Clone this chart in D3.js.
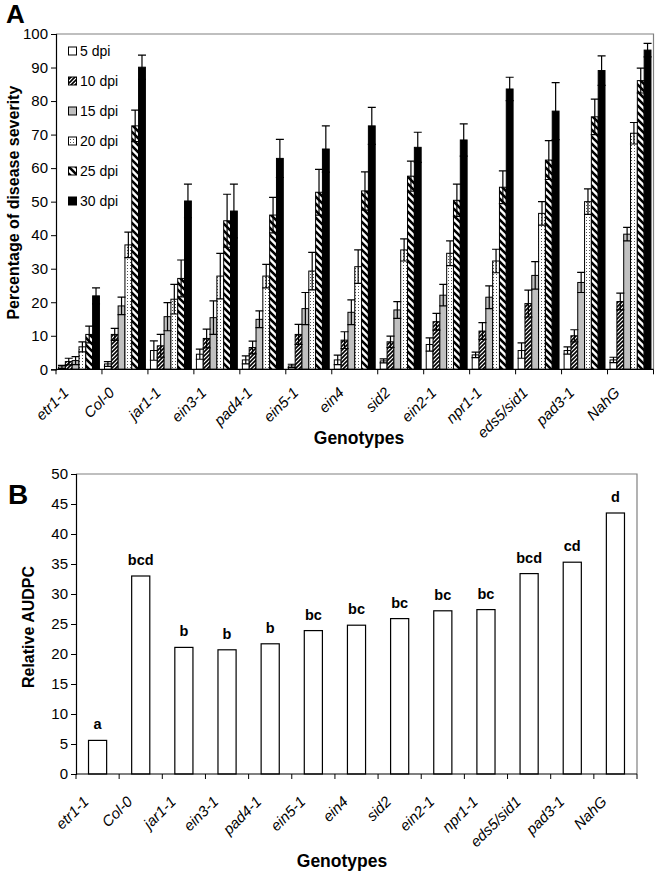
<!DOCTYPE html>
<html><head><meta charset="utf-8">
<script src="https://cdn.jsdelivr.net/npm/d3@7/dist/d3.min.js"></script>
<style>
html,body{margin:0;padding:0;background:#fff;}
#wrap{position:relative;width:656px;height:872px;}
svg{display:block;font-family:"Liberation Sans",Arial,sans-serif;}
.xl{position:absolute;font-family:"Liberation Sans",Arial,sans-serif;font-style:italic;font-size:15px;white-space:nowrap;line-height:1;transform-origin:100% 100%;}
</style></head>
<body>
<div id="wrap"><svg id="c" width="656" height="872"></svg></div>
<script>
// ---------- DATA ----------
const genotypes = ["etr1-1","Col-0","jar1-1","ein3-1","pad4-1","ein5-1","ein4","sid2","ein2-1","npr1-1","eds5/sid1","pad3-1","NahG"];
const seriesNames = ["5 dpi","10 dpi","15 dpi","20 dpi","25 dpi","30 dpi"];
const dpi5  = [0.7, 1.6, 5.6, 4.5, 2.8, 1.0, 2.8, 2.5, 7.4, 4.3, 5.6, 5.6, 2.8];
const err5  = [0.5, 0.7, 2.9, 1.5, 1.2, 0.5, 1.4, 0.6, 2.0, 0.8, 2.3, 1.1, 0.8];
const dpi10 = [2.3, 10.4, 7.0, 9.2, 6.5, 10.4, 8.7, 8.2, 14.2, 11.4, 19.6, 10.0, 20.2];
const err10 = [1.0, 1.8, 3.4, 2.8, 1.9, 3.0, 2.5, 1.7, 2.5, 2.5, 4.0, 1.8, 2.5];
const dpi15 = [2.6, 18.9, 15.7, 15.4, 14.9, 18.1, 17.0, 17.7, 22.1, 21.5, 28.0, 25.9, 40.3];
const err15 = [1.2, 2.6, 4.2, 5.0, 2.5, 4.8, 3.7, 2.5, 3.2, 3.4, 4.1, 3.0, 2.0];
const dpi20 = [6.7, 37.1, 20.9, 27.8, 27.8, 29.3, 30.6, 35.6, 34.6, 32.3, 46.5, 50.0, 70.4];
const err20 = [1.5, 3.8, 4.4, 6.8, 3.5, 5.6, 5.0, 3.3, 3.7, 3.5, 3.5, 3.8, 3.2];
const dpi25 = [10.4, 72.6, 27.1, 44.3, 46.0, 52.8, 53.2, 57.6, 50.4, 54.3, 62.4, 75.3, 86.1];
const err25 = [2.5, 4.7, 5.5, 7.9, 5.3, 6.8, 5.7, 4.5, 4.8, 4.9, 5.8, 5.3, 3.7];
const dpi30 = [21.9, 90.1, 50.2, 47.2, 62.9, 65.7, 72.6, 66.2, 68.4, 83.6, 77.0, 89.1, 95.2];
const err30 = [2.4, 3.6, 5.0, 8.0, 5.7, 6.9, 5.5, 4.5, 4.8, 3.5, 8.5, 4.4, 2.0];
const audpc   = [5.6, 33.0, 21.1, 20.7, 21.7, 23.9, 24.8, 25.9, 27.2, 27.4, 33.4, 35.3, 43.5];
const letters = ["a","bcd","b","b","b","bc","bc","bc","bc","bc","bcd","cd","d"];
const ticksA = d3.range(0, 101, 10);
const ticksB = d3.range(0, 51, 5);

const values = [dpi5, dpi10, dpi15, dpi20, dpi25, dpi30];
const errors = [err5, err10, err15, err20, err25, err30];

// ---------- SETUP ----------
const svg = d3.select("#c");
const wrap = d3.select("#wrap");
const defs = svg.append("defs");
let p = defs.append("pattern").attr("id","p10").attr("patternUnits","userSpaceOnUse")
  .attr("width",4).attr("height",4);
p.append("rect").attr("width",4).attr("height",4).attr("fill","#fff");
p.append("path").attr("d","M-1,1 l2,-2 M0,4 l4,-4 M3,5 l2,-2").attr("stroke","#000").attr("stroke-width",1.6);
p = defs.append("pattern").attr("id","p20").attr("patternUnits","userSpaceOnUse")
  .attr("width",3).attr("height",3);
p.append("rect").attr("width",3).attr("height",3).attr("fill","#fff");
p.append("rect").attr("x",1).attr("y",1).attr("width",1).attr("height",1).attr("fill","#555");
p = defs.append("pattern").attr("id","p25").attr("patternUnits","userSpaceOnUse")
  .attr("width",7).attr("height",7);
p.append("rect").attr("width",7).attr("height",7).attr("fill","#fff");
p.append("path").attr("d","M-2,-2 L9,9 M-2,5 L2,9 M5,-2 L9,2").attr("stroke","#000").attr("stroke-width",2.6);

const fills = ["#fff","url(#p10)","#c0c0c0","url(#p20)","url(#p25)","#000"];

// HTML label whose bottom-right corner is pinned at (x,y), rotated -45deg around it
function diagLabel(x, y, txt){
  const d = wrap.append("div").attr("class","xl").text(txt);
  const w = d.node().getBoundingClientRect().width;
  const h = d.node().getBoundingClientRect().height;
  d.style("left",(x-w)+"px").style("top",(y-h)+"px").style("transform","rotate(-45deg)");
}

// ---------- PANEL A ----------
const A = {l:56, r:653.5, t:34, b:369.3};
const xA = d3.scaleBand().domain(genotypes).range([A.l, A.r]);
const xInA = d3.scaleBand().domain(d3.range(6)).range([xA.bandwidth()*0.055, xA.bandwidth()*0.945]);
const yA = d3.scaleLinear().domain([0,100]).range([A.b, A.t]);

svg.append("text").attr("x",6).attr("y",23).attr("font-size",26).attr("font-weight","bold").text("A");
svg.append("path").attr("d",`M${A.l},${A.t}H${A.r}V${A.b}`).attr("fill","none").attr("stroke","#808080").attr("stroke-width",1.2);

const gA = svg.append("g");
genotypes.forEach((g,i)=>{
  for(let s=0;s<6;s++){
    const x = xA(g)+xInA(s), w = xInA.bandwidth(), v = values[s][i];
    gA.append("rect").attr("x",x).attr("y",yA(v)).attr("width",w).attr("height",yA(0)-yA(v))
      .attr("fill",fills[s]).attr("stroke","#000").attr("stroke-width",1);
  }
});
genotypes.forEach((g,i)=>{
  for(let s=0;s<6;s++){
    const cx = xA(g)+xInA(s)+xInA.bandwidth()/2, v = values[s][i], e = errors[s][i];
    const lo = Math.max(0, v-e);
    gA.append("path").attr("d",`M${cx},${yA(lo)}V${yA(v+e)}M${cx-4},${yA(v+e)}h8M${cx-4},${yA(lo)}h8`)
      .attr("stroke","#000").attr("stroke-width",1.2).attr("fill","none");
  }
});

const axYA = svg.append("g").attr("transform",`translate(${A.l},0)`)
  .call(d3.axisLeft(yA).tickValues(ticksA).tickSize(5).tickPadding(3));
axYA.select(".domain").attr("stroke","#000").attr("stroke-width",1.2);
axYA.selectAll("text").attr("font-size",15).attr("font-family","Liberation Sans, Arial, sans-serif").attr("fill","#000");
axYA.selectAll("line").attr("stroke","#000");

const axXA = svg.append("g");
axXA.append("line").attr("x1",A.l).attr("x2",A.r).attr("y1",A.b).attr("y2",A.b).attr("stroke","#000").attr("stroke-width",1.2);
axXA.append("line").attr("x1",A.l).attr("x2",A.l).attr("y1",A.b).attr("y2",A.b+5).attr("stroke","#000");
genotypes.forEach((g,i)=>{
  axXA.append("line").attr("x1",xA(g)+xA.bandwidth()).attr("x2",xA(g)+xA.bandwidth()).attr("y1",A.b).attr("y2",A.b+5).attr("stroke","#000");
  const cx = xA(g)+xA.bandwidth()/2;
  diagLabel(cx-8, A.b+26, g);
});

svg.append("text").attr("transform",`translate(19,${(A.t+A.b)/2+1}) rotate(-90)`).attr("text-anchor","middle")
  .attr("font-size",16).attr("font-weight","bold").text("Percentage of disease severity");
svg.append("text").attr("x",359).attr("y",444).attr("text-anchor","middle")
  .attr("font-size",17.5).attr("font-weight","bold").text("Genotypes");

const leg = svg.append("g");
seriesNames.forEach((n,s)=>{
  const y = 51 + s*30;
  leg.append("rect").attr("x",68.5).attr("y",y-4).attr("width",8).attr("height",8)
    .attr("fill",fills[s]).attr("stroke","#000").attr("stroke-width",1);
  leg.append("text").attr("x",80).attr("y",y+5).attr("font-size",14).text(n);
});

// ---------- PANEL B ----------
const B = {l:76, r:637, t:474, b:774};
const xB = d3.scaleBand().domain(genotypes).range([B.l, B.r]);
const yB = d3.scaleLinear().domain([0,50]).range([B.b, B.t]);

svg.append("text").attr("x",8).attr("y",504).attr("font-size",28).attr("font-weight","bold").text("B");
svg.append("path").attr("d",`M${B.l},${B.t}H${B.r}V${B.b}`).attr("fill","none").attr("stroke","#808080").attr("stroke-width",1.2);

const bw = xB.bandwidth()*0.42;
genotypes.forEach((g,i)=>{
  const cx = xB(g)+xB.bandwidth()/2;
  svg.append("rect").attr("x",cx-bw/2).attr("y",yB(audpc[i])).attr("width",bw).attr("height",yB(0)-yB(audpc[i]))
    .attr("fill","#fff").attr("stroke","#000").attr("stroke-width",1.2);
  svg.append("text").attr("x",cx).attr("y",yB(audpc[i])-11).attr("text-anchor","middle")
    .attr("font-size",14.5).attr("font-weight","bold").text(letters[i]);
});

const axYB = svg.append("g").attr("transform",`translate(${B.l},0)`)
  .call(d3.axisLeft(yB).tickValues(ticksB).tickSize(5).tickPadding(3));
axYB.select(".domain").attr("stroke","#000").attr("stroke-width",1.2);
axYB.selectAll("text").attr("font-size",15).attr("font-family","Liberation Sans, Arial, sans-serif").attr("fill","#000");
axYB.selectAll("line").attr("stroke","#000");

const axXB = svg.append("g");
axXB.append("line").attr("x1",B.l).attr("x2",B.r).attr("y1",B.b).attr("y2",B.b).attr("stroke","#000").attr("stroke-width",1.2);
axXB.append("line").attr("x1",B.l).attr("x2",B.l).attr("y1",B.b).attr("y2",B.b+5).attr("stroke","#000");
genotypes.forEach((g,i)=>{
  axXB.append("line").attr("x1",xB(g)+xB.bandwidth()).attr("x2",xB(g)+xB.bandwidth()).attr("y1",B.b).attr("y2",B.b+5).attr("stroke","#000");
  const cx = xB(g)+xB.bandwidth()/2;
  diagLabel(cx-6, B.b+30, g);
});

svg.append("text").attr("transform",`translate(34,${(B.t+B.b)/2+3}) rotate(-90)`).attr("text-anchor","middle")
  .attr("font-size",16).attr("font-weight","bold").text("Relative AUDPC");
svg.append("text").attr("x",342).attr("y",867).attr("text-anchor","middle")
  .attr("font-size",17.5).attr("font-weight","bold").text("Genotypes");
</script>
</body></html>
